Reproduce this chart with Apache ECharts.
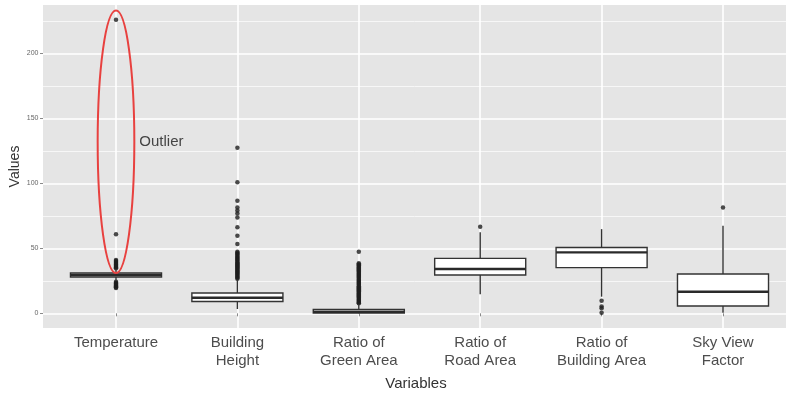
<!DOCTYPE html>
<html><head><meta charset="utf-8">
<script src="https://cdn.jsdelivr.net/npm/echarts@6/dist/echarts.min.js"></script>
<style>html,body{margin:0;padding:0;background:#fff}#c{width:786px;height:397px}</style>
</head><body><div id="c"></div>
<script>
// ---- data ----
const categories = ['Temperature', 'Building\nHeight', 'Ratio of\nGreen Area', 'Ratio of\nRoad Area', 'Ratio of\nBuilding Area', 'Sky View\nFactor'];
const whiskerLow  = [25,   3.3,  0,   14.6, 12.8, 0.5];
const q1          = [28,   9.1,  0.3, 29.5, 35.2, 5.6];
const median      = [29.5, 12,   1.2, 34.1, 46.9, 16.6];
const q3          = [31,   15.6, 3.0, 42.3, 50.7, 30.3];
const whiskerHigh = [33.5, 25.6, 7,   62.3, 64.8, 67.4];

const outliersTemperature = [226, 60.8, 41, 40.2, 39.5, 38.8, 38, 37.3, 36.6, 35.9, 35.2, 34.6,
  24.3, 23.6, 22.9, 22.2, 21.5, 20.8, 20.1, 19.4];
const outliersBuildingHeight = [127.4, 100.8, 86.6, 81.5, 79.2, 76.9, 73.8, 66.2, 59.7, 53.3,
  47.4, 46.6, 45.8, 45, 44.2, 43.4, 42.6, 41.8, 41, 40.2, 39.4, 38.6, 37.8, 37, 36.2, 35.4,
  34.6, 33.8, 33, 32.2, 31.4, 30.6, 29.8, 29, 28.2, 27.4, 26.6];
const outliersGreenArea = [47.4, 38.5, 37.7, 36.9, 36.1, 35.3, 34.5, 33.7, 32.9, 32.1, 31.3,
  30.5, 29.7, 28.9, 28.1, 27.3, 26.5, 25.7, 24.9, 24.1, 23.3, 22.5, 21.7, 20.9, 20.1, 19.3,
  18.5, 17.7, 16.9, 16.1, 15.3, 14.5, 13.7, 12.9, 12.1, 11.3, 10.5, 9.7, 8.9, 8.1, 7.7];
const outliersRoadArea = [66.6];
const outliersBuildingArea = [9.7, 5.2, 3.9, 0.5];
const outliersSkyView = [81.5];
const outliers = [outliersTemperature, outliersBuildingHeight, outliersGreenArea,
  outliersRoadArea, outliersBuildingArea, outliersSkyView];

const yMajorTicks = [0, 50, 100, 150, 200];
const yMinorTicks = [25, 75, 125, 175, 225];
const yRange = [-11.3, 237.3];

// annotation: ellipse around the Temperature outliers
const annotationCategory = [0];
const annotationCenter = [132];
const annotationHalfSpan = [101];
const annotationText = ['Outlier'];

// ---- chart ----
const font = '"Liberation Sans", Arial, sans-serif';
const boxData = categories.map((c, i) => [i, whiskerLow[i], q1[i], median[i], q3[i], whiskerHigh[i]]);
const pointData = [];
outliers.forEach((arr, i) => arr.forEach(v => pointData.push([i, v])));
const annData = annotationCategory.map((c, i) => [c, annotationCenter[i], annotationHalfSpan[i]]);

const chart = echarts.init(document.getElementById('c'), null, {renderer: 'canvas'});
chart.setOption({
  animation: false,
  backgroundColor: '#fff',
  grid: [
    {left: 55.3, right: 2.3, top: 5, bottom: 69, show: false, containLabel: false, outerBoundsMode: 'none'},
    {left: 43, right: 0, top: 5, bottom: 69, show: true, backgroundColor: '#e5e5e5', borderWidth: 0,
      containLabel: false, outerBoundsMode: 'none'}
  ],
  xAxis: [
    {
      type: 'category', gridIndex: 0, data: categories,
      axisLine: {show: false},
      axisTick: {show: true, alignWithLabel: true, length: 3, lineStyle: {color: '#8a8a8a', width: 1}},
      axisLabel: {interval: 0, fontSize: 15, fontFamily: font, color: '#4d4d4d', lineHeight: 17.5, margin: 6.5},
      splitLine: {show: true, alignWithLabel: true, lineStyle: {color: '#ffffff', width: 1.6}},
      name: 'Variables', nameLocation: 'middle', nameGap: 48,
      nameTextStyle: {fontSize: 15, fontFamily: font, color: '#333', padding: [0, 7, 0, 0]}
    },
    {type: 'value', gridIndex: 1, min: 0, max: 1, show: false}
  ],
  yAxis: [
    {type: 'value', gridIndex: 0, min: yRange[0], max: yRange[1], show: false},
    {
      type: 'value', gridIndex: 1, position: 'left', min: yRange[0], max: yRange[1],
      axisLine: {show: false},
      axisTick: {show: true, length: 3, customValues: yMajorTicks, lineStyle: {color: '#8a8a8a', width: 1}},
      axisLabel: {customValues: yMajorTicks, fontSize: 7, fontFamily: font, color: '#666', margin: 4.5},
      splitLine: {show: true, lineStyle: {color: '#ffffff', width: 1.6}},
      name: 'Values', nameLocation: 'middle', nameGap: 21, nameMoveOverlap: false,
      nameTextStyle: {fontSize: 14, fontFamily: font, color: '#333'}
    },
    {
      type: 'value', gridIndex: 1, position: 'left', min: yRange[0], max: yRange[1],
      axisLine: {show: false},
      axisTick: {show: false, customValues: yMinorTicks},
      axisLabel: {show: false, customValues: yMinorTicks},
      splitLine: {show: true, lineStyle: {color: '#f7f7f7', width: 1}}
    }
  ],
  series: [
    {
      type: 'scatter', xAxisIndex: 0, yAxisIndex: 0, data: pointData,
      symbol: 'circle', symbolSize: 4.5, itemStyle: {color: '#1e1e1e'}, z: 3, silent: true
    },
    {
      type: 'custom', xAxisIndex: 0, yAxisIndex: 0, data: boxData, z: 4, silent: true,
      encode: {x: 0, y: [1, 2, 3, 4, 5]},
      renderItem: function (params, api) {
        const i = api.value(0);
        const x = api.coord([i, api.value(3)])[0];
        const bw = api.size([1, 0])[0];
        const half = bw * 0.375;
        const yLo = api.coord([i, api.value(1)])[1];
        const yQ1 = api.coord([i, api.value(2)])[1];
        const yMed = api.coord([i, api.value(3)])[1];
        const yQ3 = api.coord([i, api.value(4)])[1];
        const yHi = api.coord([i, api.value(5)])[1];
        const stroke = '#333333';
        return {
          type: 'group',
          children: [
            {type: 'line', shape: {x1: x, y1: yQ1, x2: x, y2: yLo}, style: {stroke: stroke, lineWidth: 1.4}},
            {type: 'line', shape: {x1: x, y1: yQ3, x2: x, y2: yHi}, style: {stroke: stroke, lineWidth: 1.4}},
            {type: 'rect', shape: {x: x - half, y: yQ3, width: 2 * half, height: yQ1 - yQ3},
              style: {fill: '#ffffff', stroke: stroke, lineWidth: 1.4}},
            {type: 'line', shape: {x1: x - half, y1: yMed, x2: x + half, y2: yMed},
              style: {stroke: '#2a2a2a', lineWidth: 2.4}}
          ]
        };
      }
    },
    {
      type: 'custom', xAxisIndex: 0, yAxisIndex: 0, data: annData, z: 5, silent: true,
      encode: {x: 0, y: 1},
      renderItem: function (params, api) {
        const c = api.coord([api.value(0), api.value(1)]);
        const ry = api.size([0, api.value(2)])[1];
        const rx = api.size([1, 0])[0] * 0.151;
        return {
          type: 'group',
          children: [
            {type: 'ellipse', shape: {cx: c[0], cy: c[1], rx: rx, ry: ry},
              style: {fill: 'none', stroke: '#e8413f', lineWidth: 2}},
            {type: 'text', x: c[0] + rx + 5, y: c[1],
              style: {text: annotationText[params.dataIndex], fill: '#444', fontSize: 15, fontFamily: font,
                align: 'left', verticalAlign: 'middle'}}
          ]
        };
      }
    }
  ]
});
</script>
</body></html>
